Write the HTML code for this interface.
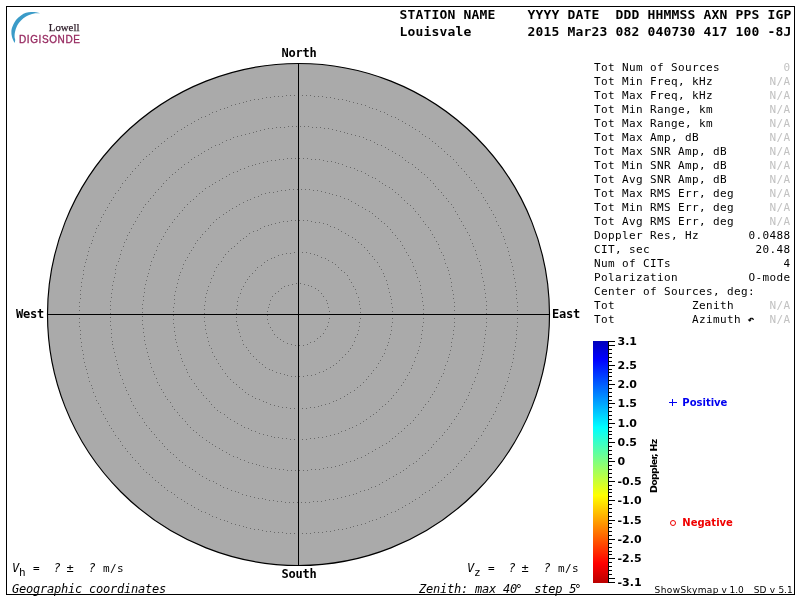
<!DOCTYPE html>
<html><head><meta charset="utf-8"><title>Skymap</title>
<style>
html,body{margin:0;padding:0;background:#fff;}
body{width:800px;height:600px;overflow:hidden;position:relative;}
svg{position:absolute;left:0;top:0;display:block;}
text{white-space:pre;}
.m{font-family:"DejaVu Sans Mono","Liberation Mono",monospace;font-size:11px;letter-spacing:0.3774px;fill:#000;}
.hb{font-family:"DejaVu Sans Mono","Liberation Mono",monospace;font-weight:bold;font-size:13px;letter-spacing:0.1733px;fill:#000;}
.b{font-family:"DejaVu Sans Mono","Liberation Mono",monospace;font-weight:bold;font-size:12px;letter-spacing:-0.2246px;fill:#000;}
.i{font-style:italic;}
.g{fill:#c2c2c2;}
.s{font-family:"DejaVu Sans","Liberation Sans",sans-serif;font-weight:bold;font-size:10px;fill:#000;}
.v{font-family:"DejaVu Sans","Liberation Sans",sans-serif;font-size:9px;fill:#000;}
</style></head><body>
<svg width="800" height="600" viewBox="0 0 800 600">
<defs><linearGradient id="jet" x1="0" y1="0" x2="0" y2="1">
<stop offset="0" stop-color="#0000ba"/><stop offset="0.0764" stop-color="#0000ff"/><stop offset="0.3574" stop-color="#00ffff"/><stop offset="0.6384" stop-color="#ffff00"/><stop offset="0.9194" stop-color="#ff0000"/><stop offset="1" stop-color="#ba0000"/>
</linearGradient></defs>
<rect x="0" y="0" width="800" height="600" fill="#fff"/>

<rect x="6.5" y="6.5" width="788" height="588" fill="none" stroke="#000" stroke-width="1"/>
<path d="M40 13.2C39.33 13.03 37.50 12.40 36 12.2C34.50 12.00 32.67 11.90 31 12C29.33 12.10 27.67 12.22 26 12.8C24.33 13.38 22.67 14.30 21 15.5C19.33 16.70 17.38 18.25 16 20C14.62 21.75 13.47 24.17 12.7 26C11.93 27.83 11.52 29.17 11.4 31C11.28 32.83 11.47 35.00 12 37C12.53 39.00 14.17 42.00 14.6 43C14.70 42.50 15.20 41.00 15.2 40C15.20 39.00 14.63 38.33 14.6 37C14.57 35.67 14.60 33.83 15 32C15.40 30.17 16.00 27.92 17 26C18.00 24.08 19.50 22.08 21 20.5C22.50 18.92 24.17 17.58 26 16.5C27.83 15.42 30.33 14.53 32 14C33.67 13.47 34.67 13.43 36 13.3C37.33 13.17 39.33 13.22 40 13.2Z" fill="#3a9bc8"/>
<text x="48.8" y="30.5" style="font-family:'Liberation Serif',serif;font-size:10.8px;fill:#33222e;stroke:#33222e;stroke-width:0.25px;">Lowell</text>
<text x="19" y="42.5" style="font-family:'Liberation Sans',sans-serif;font-size:10px;letter-spacing:0.6px;fill:#96285f;stroke:#96285f;stroke-width:0.3px;">DIGISONDE</text>
<circle cx="298.5" cy="314.5" r="251" fill="#aaaaaa" stroke="#000" stroke-width="1.15"/>
<path d="M329 314.5h1M329 318.5h1M328 322.5h1M327 326.5h1M325 329.5h1M323 333.5h1M320 336.5h1M317 338.5h1M314 341.5h1M310 342.5h1M307 344.5h1M303 345.5h1M299 345.5h1M295 345.5h1M291 344.5h1M287 343.5h1M283 341.5h1M280 339.5h1M277 337.5h1M274 334.5h1M272 330.5h1M270 327.5h1M268 323.5h1M267 319.5h1M267 315.5h1M267 311.5h1M268 307.5h1M269 304.5h1M270 300.5h1M272 296.5h1M275 293.5h1M278 291.5h1M281 288.5h1M284 286.5h1M288 285.5h1M292 284.5h1M296 283.5h1M300 283.5h1M304 284.5h1M308 285.5h1M311 286.5h1M315 288.5h1M318 290.5h1M321 293.5h1M323 296.5h1M326 300.5h1M327 303.5h1M328 307.5h1M329 311.5h1M360 314.5h1M360 318.5h1M359 322.5h1M359 326.5h1M358 330.5h1M357 334.5h1M355 337.5h1M354 341.5h1M352 345.5h1M350 348.5h1M348 351.5h1M345 354.5h1M342 357.5h1M339 360.5h1M336 363.5h1M333 365.5h1M330 367.5h1M326 369.5h1M323 371.5h1M319 372.5h1M315 374.5h1M311 375.5h1M307 375.5h1M303 376.5h1M299 376.5h1M295 376.5h1M291 376.5h1M287 375.5h1M284 374.5h1M280 373.5h1M276 372.5h1M272 370.5h1M269 369.5h1M265 367.5h1M262 364.5h1M259 362.5h1M256 359.5h1M253 356.5h1M250 353.5h1M248 350.5h1M246 347.5h1M243 344.5h1M242 340.5h1M240 336.5h1M239 332.5h1M238 329.5h1M237 325.5h1M236 321.5h1M236 317.5h1M236 313.5h1M236 309.5h1M237 305.5h1M237 301.5h1M238 297.5h1M240 293.5h1M241 289.5h1M243 286.5h1M245 282.5h1M247 279.5h1M249 276.5h1M252 273.5h1M255 270.5h1M257 267.5h1M261 265.5h1M264 262.5h1M267 260.5h1M271 258.5h1M274 257.5h1M278 255.5h1M282 254.5h1M286 253.5h1M290 253.5h1M294 252.5h1M298 252.5h1M302 252.5h1M306 252.5h1M310 253.5h1M314 254.5h1M317 255.5h1M321 257.5h1M325 258.5h1M328 260.5h1M332 262.5h1M335 264.5h1M338 267.5h1M341 270.5h1M344 272.5h1M347 275.5h1M349 279.5h1M351 282.5h1M353 286.5h1M355 289.5h1M356 293.5h1M358 297.5h1M359 301.5h1M359 304.5h1M360 308.5h1M360 312.5h1M392 314.5h1M392 318.5h1M392 322.5h1M391 326.5h1M391 330.5h1M390 334.5h1M389 338.5h1M388 342.5h1M387 345.5h1M385 349.5h1M384 353.5h1M382 356.5h1M380 360.5h1M378 363.5h1M376 367.5h1M373 370.5h1M371 373.5h1M368 376.5h1M366 379.5h1M363 382.5h1M360 385.5h1M357 387.5h1M354 390.5h1M350 392.5h1M347 394.5h1M344 396.5h1M340 398.5h1M336 400.5h1M333 401.5h1M329 403.5h1M325 404.5h1M321 405.5h1M318 406.5h1M314 407.5h1M310 407.5h1M306 408.5h1M302 408.5h1M298 408.5h1M294 408.5h1M290 408.5h1M286 407.5h1M282 407.5h1M278 406.5h1M274 405.5h1M270 404.5h1M266 402.5h1M263 401.5h1M259 399.5h1M255 398.5h1M252 396.5h1M248 394.5h1M245 392.5h1M242 389.5h1M239 387.5h1M236 384.5h1M233 382.5h1M230 379.5h1M227 376.5h1M225 373.5h1M222 369.5h1M220 366.5h1M218 363.5h1M216 359.5h1M214 356.5h1M212 352.5h1M211 348.5h1M209 345.5h1M208 341.5h1M207 337.5h1M206 333.5h1M205 329.5h1M205 325.5h1M204 321.5h1M204 317.5h1M204 313.5h1M204 309.5h1M204 305.5h1M205 301.5h1M205 297.5h1M206 293.5h1M207 290.5h1M208 286.5h1M210 282.5h1M211 278.5h1M213 275.5h1M214 271.5h1M216 267.5h1M218 264.5h1M221 261.5h1M223 257.5h1M225 254.5h1M228 251.5h1M231 248.5h1M234 246.5h1M237 243.5h1M240 240.5h1M243 238.5h1M246 236.5h1M249 233.5h1M253 231.5h1M257 230.5h1M260 228.5h1M264 226.5h1M268 225.5h1M271 224.5h1M275 223.5h1M279 222.5h1M283 221.5h1M287 221.5h1M291 220.5h1M295 220.5h1M299 220.5h1M303 220.5h1M307 220.5h1M311 221.5h1M315 222.5h1M319 222.5h1M323 223.5h1M327 224.5h1M330 226.5h1M334 227.5h1M338 229.5h1M341 231.5h1M345 233.5h1M348 235.5h1M352 237.5h1M355 239.5h1M358 242.5h1M361 244.5h1M364 247.5h1M367 250.5h1M369 253.5h1M372 256.5h1M374 259.5h1M377 262.5h1M379 266.5h1M381 269.5h1M383 273.5h1M384 276.5h1M386 280.5h1M387 284.5h1M388 288.5h1M389 292.5h1M390 296.5h1M391 299.5h1M391 303.5h1M392 307.5h1M392 311.5h1M423 314.5h1M423 318.5h1M423 322.5h1M422 326.5h1M422 330.5h1M421 334.5h1M421 338.5h1M420 342.5h1M419 346.5h1M418 350.5h1M417 353.5h1M415 357.5h1M414 361.5h1M412 365.5h1M411 368.5h1M409 372.5h1M407 375.5h1M405 379.5h1M403 382.5h1M401 385.5h1M398 389.5h1M396 392.5h1M393 395.5h1M391 398.5h1M388 401.5h1M385 404.5h1M382 406.5h1M379 409.5h1M376 412.5h1M373 414.5h1M370 416.5h1M366 419.5h1M363 421.5h1M360 423.5h1M356 425.5h1M352 427.5h1M349 428.5h1M345 430.5h1M341 431.5h1M338 433.5h1M334 434.5h1M330 435.5h1M326 436.5h1M322 437.5h1M318 437.5h1M314 438.5h1M310 438.5h1M306 439.5h1M302 439.5h1M298 439.5h1M294 439.5h1M290 439.5h1M286 438.5h1M282 438.5h1M278 437.5h1M274 437.5h1M271 436.5h1M267 435.5h1M263 434.5h1M259 433.5h1M255 431.5h1M251 430.5h1M248 428.5h1M244 427.5h1M241 425.5h1M237 423.5h1M234 421.5h1M230 419.5h1M227 417.5h1M224 414.5h1M220 412.5h1M217 410.5h1M214 407.5h1M211 404.5h1M209 401.5h1M206 398.5h1M203 395.5h1M201 392.5h1M198 389.5h1M196 386.5h1M194 383.5h1M191 379.5h1M189 376.5h1M187 372.5h1M186 369.5h1M184 365.5h1M182 361.5h1M181 358.5h1M180 354.5h1M178 350.5h1M177 346.5h1M176 342.5h1M175 339.5h1M175 335.5h1M174 331.5h1M174 327.5h1M173 323.5h1M173 319.5h1M173 315.5h1M173 311.5h1M173 307.5h1M174 303.5h1M174 299.5h1M174 295.5h1M175 291.5h1M176 287.5h1M177 283.5h1M178 279.5h1M179 275.5h1M180 272.5h1M182 268.5h1M183 264.5h1M185 260.5h1M187 257.5h1M189 253.5h1M191 250.5h1M193 247.5h1M195 243.5h1M197 240.5h1M200 237.5h1M202 234.5h1M205 231.5h1M208 228.5h1M210 225.5h1M213 222.5h1M216 219.5h1M219 217.5h1M223 214.5h1M226 212.5h1M229 210.5h1M232 208.5h1M236 206.5h1M239 204.5h1M243 202.5h1M247 200.5h1M250 199.5h1M254 197.5h1M258 196.5h1M261 194.5h1M265 193.5h1M269 192.5h1M273 192.5h1M277 191.5h1M281 190.5h1M285 190.5h1M289 189.5h1M293 189.5h1M297 189.5h1M301 189.5h1M305 189.5h1M309 189.5h1M313 190.5h1M317 190.5h1M321 191.5h1M325 192.5h1M329 193.5h1M332 194.5h1M336 195.5h1M340 196.5h1M344 198.5h1M348 199.5h1M351 201.5h1M355 203.5h1M358 205.5h1M362 207.5h1M365 209.5h1M369 211.5h1M372 213.5h1M375 216.5h1M378 218.5h1M381 221.5h1M384 223.5h1M387 226.5h1M390 229.5h1M392 232.5h1M395 235.5h1M397 238.5h1M400 241.5h1M402 245.5h1M404 248.5h1M406 252.5h1M408 255.5h1M410 259.5h1M412 262.5h1M413 266.5h1M415 270.5h1M416 273.5h1M417 277.5h1M419 281.5h1M420 285.5h1M420 289.5h1M421 293.5h1M422 297.5h1M422 301.5h1M423 305.5h1M423 309.5h1M423 313.5h1M454 314.5h1M454 318.5h1M454 322.5h1M454 326.5h1M453 330.5h1M453 334.5h1M452 338.5h1M451 342.5h1M451 346.5h1M450 350.5h1M449 354.5h1M448 357.5h1M447 361.5h1M445 365.5h1M444 369.5h1M443 373.5h1M441 376.5h1M439 380.5h1M438 383.5h1M436 387.5h1M434 391.5h1M432 394.5h1M430 397.5h1M428 401.5h1M425 404.5h1M423 407.5h1M421 410.5h1M418 414.5h1M415 417.5h1M413 420.5h1M410 423.5h1M407 425.5h1M404 428.5h1M401 431.5h1M398 433.5h1M395 436.5h1M392 438.5h1M389 441.5h1M386 443.5h1M382 445.5h1M379 447.5h1M375 449.5h1M372 451.5h1M368 453.5h1M365 455.5h1M361 457.5h1M357 458.5h1M354 460.5h1M350 461.5h1M346 462.5h1M342 464.5h1M339 465.5h1M335 466.5h1M331 467.5h1M327 467.5h1M323 468.5h1M319 469.5h1M315 469.5h1M311 469.5h1M307 470.5h1M303 470.5h1M299 470.5h1M295 470.5h1M291 470.5h1M287 470.5h1M283 469.5h1M279 469.5h1M275 468.5h1M271 468.5h1M267 467.5h1M263 466.5h1M259 465.5h1M256 464.5h1M252 463.5h1M248 462.5h1M244 460.5h1M240 459.5h1M237 457.5h1M233 456.5h1M229 454.5h1M226 452.5h1M222 450.5h1M219 448.5h1M215 446.5h1M212 444.5h1M209 442.5h1M206 440.5h1M202 437.5h1M199 435.5h1M196 432.5h1M193 430.5h1M190 427.5h1M187 424.5h1M185 421.5h1M182 418.5h1M179 415.5h1M177 412.5h1M174 409.5h1M172 406.5h1M170 402.5h1M167 399.5h1M165 396.5h1M163 392.5h1M161 389.5h1M159 385.5h1M157 382.5h1M156 378.5h1M154 374.5h1M153 371.5h1M151 367.5h1M150 363.5h1M149 359.5h1M148 356.5h1M147 352.5h1M146 348.5h1M145 344.5h1M144 340.5h1M144 336.5h1M143 332.5h1M143 328.5h1M142 324.5h1M142 320.5h1M142 316.5h1M142 312.5h1M142 308.5h1M142 304.5h1M143 300.5h1M143 296.5h1M144 292.5h1M144 288.5h1M145 284.5h1M146 280.5h1M147 276.5h1M148 273.5h1M149 269.5h1M150 265.5h1M151 261.5h1M153 257.5h1M154 254.5h1M156 250.5h1M157 246.5h1M159 243.5h1M161 239.5h1M163 236.5h1M165 232.5h1M167 229.5h1M169 226.5h1M172 222.5h1M174 219.5h1M177 216.5h1M179 213.5h1M182 210.5h1M184 207.5h1M187 204.5h1M190 201.5h1M193 199.5h1M196 196.5h1M199 193.5h1M202 191.5h1M205 188.5h1M209 186.5h1M212 184.5h1M215 182.5h1M219 180.5h1M222 178.5h1M226 176.5h1M229 174.5h1M233 172.5h1M237 171.5h1M240 169.5h1M244 168.5h1M248 166.5h1M252 165.5h1M255 164.5h1M259 163.5h1M263 162.5h1M267 161.5h1M271 160.5h1M275 160.5h1M279 159.5h1M283 159.5h1M287 158.5h1M291 158.5h1M295 158.5h1M299 158.5h1M303 158.5h1M307 158.5h1M311 159.5h1M315 159.5h1M319 159.5h1M323 160.5h1M327 161.5h1M331 161.5h1M335 162.5h1M338 163.5h1M342 164.5h1M346 166.5h1M350 167.5h1M354 168.5h1M357 170.5h1M361 171.5h1M365 173.5h1M368 175.5h1M372 177.5h1M375 178.5h1M379 181.5h1M382 183.5h1M385 185.5h1M389 187.5h1M392 189.5h1M395 192.5h1M398 194.5h1M401 197.5h1M404 200.5h1M407 203.5h1M410 205.5h1M413 208.5h1M415 211.5h1M418 214.5h1M420 217.5h1M423 221.5h1M425 224.5h1M428 227.5h1M430 230.5h1M432 234.5h1M434 237.5h1M436 241.5h1M438 244.5h1M439 248.5h1M441 252.5h1M443 255.5h1M444 259.5h1M445 263.5h1M447 267.5h1M448 270.5h1M449 274.5h1M450 278.5h1M451 282.5h1M451 286.5h1M452 290.5h1M453 294.5h1M453 298.5h1M454 302.5h1M454 306.5h1M454 310.5h1M454 314.5h1M486 314.5h1M486 318.5h1M486 322.5h1M486 326.5h1M485 330.5h1M485 334.5h1M484 338.5h1M484 342.5h1M483 346.5h1M483 350.5h1M482 354.5h1M481 358.5h1M480 361.5h1M479 365.5h1M478 369.5h1M477 373.5h1M475 377.5h1M474 381.5h1M472 384.5h1M471 388.5h1M469 392.5h1M468 395.5h1M466 399.5h1M464 402.5h1M462 406.5h1M460 409.5h1M458 413.5h1M456 416.5h1M454 419.5h1M451 423.5h1M449 426.5h1M447 429.5h1M444 432.5h1M442 435.5h1M439 438.5h1M436 441.5h1M433 444.5h1M431 447.5h1M428 450.5h1M425 453.5h1M422 455.5h1M419 458.5h1M416 461.5h1M413 463.5h1M409 465.5h1M406 468.5h1M403 470.5h1M400 472.5h1M396 474.5h1M393 476.5h1M389 478.5h1M386 480.5h1M382 482.5h1M379 484.5h1M375 486.5h1M371 487.5h1M368 489.5h1M364 490.5h1M360 491.5h1M356 493.5h1M353 494.5h1M349 495.5h1M345 496.5h1M341 497.5h1M337 498.5h1M333 499.5h1M329 499.5h1M325 500.5h1M321 501.5h1M317 501.5h1M313 501.5h1M309 502.5h1M305 502.5h1M301 502.5h1M297 502.5h1M293 502.5h1M289 502.5h1M285 502.5h1M281 501.5h1M277 501.5h1M273 500.5h1M269 500.5h1M265 499.5h1M262 498.5h1M258 498.5h1M254 497.5h1M250 496.5h1M246 495.5h1M242 494.5h1M238 492.5h1M235 491.5h1M231 490.5h1M227 488.5h1M223 487.5h1M220 485.5h1M216 483.5h1M213 481.5h1M209 480.5h1M206 478.5h1M202 476.5h1M199 474.5h1M195 471.5h1M192 469.5h1M189 467.5h1M185 465.5h1M182 462.5h1M179 460.5h1M176 457.5h1M173 454.5h1M170 452.5h1M167 449.5h1M164 446.5h1M162 443.5h1M159 440.5h1M156 437.5h1M154 434.5h1M151 431.5h1M149 428.5h1M146 425.5h1M144 422.5h1M142 418.5h1M139 415.5h1M137 412.5h1M135 408.5h1M133 405.5h1M131 401.5h1M130 398.5h1M128 394.5h1M126 390.5h1M125 387.5h1M123 383.5h1M122 379.5h1M120 375.5h1M119 372.5h1M118 368.5h1M117 364.5h1M116 360.5h1M115 356.5h1M114 352.5h1M113 348.5h1M112 344.5h1M112 341.5h1M111 337.5h1M111 333.5h1M111 329.5h1M110 325.5h1M110 321.5h1M110 317.5h1M110 313.5h1M110 309.5h1M110 305.5h1M110 301.5h1M111 297.5h1M111 293.5h1M112 289.5h1M112 285.5h1M113 281.5h1M114 277.5h1M115 273.5h1M115 269.5h1M116 265.5h1M118 261.5h1M119 258.5h1M120 254.5h1M121 250.5h1M123 246.5h1M124 242.5h1M126 239.5h1M127 235.5h1M129 232.5h1M131 228.5h1M133 224.5h1M135 221.5h1M137 217.5h1M139 214.5h1M141 211.5h1M143 207.5h1M145 204.5h1M148 201.5h1M150 198.5h1M153 195.5h1M155 192.5h1M158 189.5h1M161 186.5h1M163 183.5h1M166 180.5h1M169 177.5h1M172 174.5h1M175 172.5h1M178 169.5h1M181 167.5h1M184 164.5h1M188 162.5h1M191 159.5h1M194 157.5h1M198 155.5h1M201 153.5h1M204 151.5h1M208 149.5h1M211 147.5h1M215 145.5h1M219 144.5h1M222 142.5h1M226 140.5h1M230 139.5h1M233 137.5h1M237 136.5h1M241 135.5h1M245 134.5h1M249 133.5h1M253 132.5h1M256 131.5h1M260 130.5h1M264 129.5h1M268 128.5h1M272 128.5h1M276 127.5h1M280 127.5h1M284 127.5h1M288 126.5h1M292 126.5h1M296 126.5h1M300 126.5h1M304 126.5h1M308 126.5h1M312 127.5h1M316 127.5h1M320 127.5h1M324 128.5h1M328 128.5h1M332 129.5h1M336 130.5h1M340 131.5h1M344 132.5h1M347 133.5h1M351 134.5h1M355 135.5h1M359 136.5h1M363 137.5h1M366 139.5h1M370 140.5h1M374 142.5h1M377 144.5h1M381 145.5h1M385 147.5h1M388 149.5h1M392 151.5h1M395 153.5h1M399 155.5h1M402 157.5h1M405 160.5h1M408 162.5h1M412 164.5h1M415 167.5h1M418 169.5h1M421 172.5h1M424 174.5h1M427 177.5h1M430 180.5h1M433 183.5h1M435 186.5h1M438 189.5h1M441 192.5h1M443 195.5h1M446 198.5h1M448 201.5h1M451 204.5h1M453 207.5h1M455 211.5h1M457 214.5h1M459 218.5h1M461 221.5h1M463 225.5h1M465 228.5h1M467 232.5h1M469 235.5h1M470 239.5h1M472 243.5h1M473 246.5h1M475 250.5h1M476 254.5h1M477 258.5h1M479 261.5h1M480 265.5h1M481 269.5h1M481 273.5h1M482 277.5h1M483 281.5h1M484 285.5h1M484 289.5h1M485 293.5h1M485 297.5h1M486 301.5h1M486 305.5h1M486 309.5h1M486 313.5h1M517 314.5h1M517 318.5h1M517 322.5h1M517 326.5h1M516 330.5h1M516 334.5h1M516 338.5h1M515 342.5h1M515 346.5h1M514 350.5h1M513 354.5h1M513 358.5h1M512 362.5h1M511 366.5h1M510 369.5h1M509 373.5h1M508 377.5h1M507 381.5h1M505 385.5h1M504 388.5h1M503 392.5h1M501 396.5h1M500 400.5h1M498 403.5h1M496 407.5h1M495 411.5h1M493 414.5h1M491 418.5h1M489 421.5h1M487 425.5h1M485 428.5h1M483 431.5h1M481 435.5h1M478 438.5h1M476 441.5h1M474 445.5h1M471 448.5h1M469 451.5h1M466 454.5h1M464 457.5h1M461 460.5h1M458 463.5h1M456 466.5h1M453 469.5h1M450 472.5h1M447 474.5h1M444 477.5h1M441 480.5h1M438 482.5h1M435 485.5h1M432 487.5h1M429 490.5h1M425 492.5h1M422 494.5h1M419 497.5h1M415 499.5h1M412 501.5h1M409 503.5h1M405 505.5h1M402 507.5h1M398 509.5h1M395 511.5h1M391 512.5h1M387 514.5h1M384 516.5h1M380 517.5h1M376 519.5h1M372 520.5h1M369 521.5h1M365 523.5h1M361 524.5h1M357 525.5h1M353 526.5h1M350 527.5h1M346 528.5h1M342 529.5h1M338 529.5h1M334 530.5h1M330 531.5h1M326 531.5h1M322 532.5h1M318 532.5h1M314 532.5h1M310 533.5h1M306 533.5h1M302 533.5h1M298 533.5h1M294 533.5h1M290 533.5h1M286 533.5h1M282 532.5h1M278 532.5h1M274 532.5h1M270 531.5h1M266 531.5h1M262 530.5h1M258 529.5h1M254 529.5h1M250 528.5h1M246 527.5h1M243 526.5h1M239 525.5h1M235 524.5h1M231 523.5h1M227 521.5h1M224 520.5h1M220 519.5h1M216 517.5h1M212 516.5h1M209 514.5h1M205 512.5h1M201 511.5h1M198 509.5h1M194 507.5h1M191 505.5h1M187 503.5h1M184 501.5h1M181 499.5h1M177 497.5h1M174 494.5h1M171 492.5h1M167 490.5h1M164 487.5h1M161 485.5h1M158 482.5h1M155 480.5h1M152 477.5h1M149 474.5h1M146 472.5h1M143 469.5h1M140 466.5h1M138 463.5h1M135 460.5h1M132 457.5h1M130 454.5h1M127 451.5h1M125 448.5h1M122 445.5h1M120 441.5h1M118 438.5h1M115 435.5h1M113 431.5h1M111 428.5h1M109 425.5h1M107 421.5h1M105 418.5h1M103 414.5h1M101 411.5h1M100 407.5h1M98 403.5h1M96 400.5h1M95 396.5h1M93 392.5h1M92 388.5h1M91 385.5h1M89 381.5h1M88 377.5h1M87 373.5h1M86 369.5h1M85 366.5h1M84 362.5h1M83 358.5h1M83 354.5h1M82 350.5h1M81 346.5h1M81 342.5h1M80 338.5h1M80 334.5h1M80 330.5h1M79 326.5h1M79 322.5h1M79 318.5h1M79 314.5h1M79 310.5h1M79 306.5h1M79 302.5h1M80 298.5h1M80 294.5h1M80 290.5h1M81 286.5h1M81 282.5h1M82 278.5h1M83 274.5h1M83 270.5h1M84 266.5h1M85 262.5h1M86 259.5h1M87 255.5h1M88 251.5h1M89 247.5h1M91 243.5h1M92 240.5h1M93 236.5h1M95 232.5h1M96 228.5h1M98 225.5h1M100 221.5h1M101 217.5h1M103 214.5h1M105 210.5h1M107 207.5h1M109 203.5h1M111 200.5h1M113 197.5h1M115 193.5h1M118 190.5h1M120 187.5h1M122 183.5h1M125 180.5h1M127 177.5h1M130 174.5h1M132 171.5h1M135 168.5h1M138 165.5h1M140 162.5h1M143 159.5h1M146 156.5h1M149 154.5h1M152 151.5h1M155 148.5h1M158 146.5h1M161 143.5h1M164 141.5h1M167 138.5h1M171 136.5h1M174 134.5h1M177 131.5h1M181 129.5h1M184 127.5h1M187 125.5h1M191 123.5h1M194 121.5h1M198 119.5h1M201 117.5h1M205 116.5h1M209 114.5h1M212 112.5h1M216 111.5h1M220 109.5h1M224 108.5h1M227 107.5h1M231 105.5h1M235 104.5h1M239 103.5h1M243 102.5h1M246 101.5h1M250 100.5h1M254 99.5h1M258 99.5h1M262 98.5h1M266 97.5h1M270 97.5h1M274 96.5h1M278 96.5h1M282 96.5h1M286 95.5h1M290 95.5h1M294 95.5h1M298 95.5h1M302 95.5h1M306 95.5h1M310 95.5h1M314 96.5h1M318 96.5h1M322 96.5h1M326 97.5h1M330 97.5h1M334 98.5h1M338 99.5h1M342 99.5h1M346 100.5h1M349 101.5h1M353 102.5h1M357 103.5h1M361 104.5h1M365 105.5h1M369 107.5h1M372 108.5h1M376 109.5h1M380 111.5h1M384 112.5h1M387 114.5h1M391 116.5h1M395 117.5h1M398 119.5h1M402 121.5h1M405 123.5h1M409 125.5h1M412 127.5h1M415 129.5h1M419 131.5h1M422 134.5h1M425 136.5h1M429 138.5h1M432 141.5h1M435 143.5h1M438 146.5h1M441 148.5h1M444 151.5h1M447 154.5h1M450 156.5h1M453 159.5h1M456 162.5h1M458 165.5h1M461 168.5h1M464 171.5h1M466 174.5h1M469 177.5h1M471 180.5h1M474 183.5h1M476 187.5h1M478 190.5h1M481 193.5h1M483 197.5h1M485 200.5h1M487 203.5h1M489 207.5h1M491 210.5h1M493 214.5h1M495 217.5h1M496 221.5h1M498 225.5h1M500 228.5h1M501 232.5h1M503 236.5h1M504 239.5h1M505 243.5h1M507 247.5h1M508 251.5h1M509 255.5h1M510 259.5h1M511 262.5h1M512 266.5h1M513 270.5h1M513 274.5h1M514 278.5h1M515 282.5h1M515 286.5h1M516 290.5h1M516 294.5h1M516 298.5h1M517 302.5h1M517 306.5h1M517 310.5h1M517 314.5h1" stroke="#6a6a6a" stroke-width="1" fill="none" shape-rendering="crispEdges"/>
<rect x="298" y="63" width="1" height="503" fill="#000"/>
<rect x="47" y="314" width="503" height="1" fill="#000"/>
<text class="b" x="281.5" y="57">North</text>
<text class="b" x="281.5" y="578">South</text>
<text class="b" x="16" y="318">West</text>
<text class="b" x="552" y="318">East</text>
<text class="hb" x="399.6" y="19">STATION NAME    YYYY DATE  DDD HHMMSS AXN PPS IGP</text>
<text class="hb" x="399.6" y="36">Louisvale       2015 Mar23 082 040730 417 100 -8J</text>
<text class="m" x="594" y="71">Tot Num of Sources</text>
<text class="m g" x="783.5" y="71">0</text>
<text class="m" x="594" y="85">Tot Min Freq, kHz</text>
<text class="m g" x="769.5" y="85">N/A</text>
<text class="m" x="594" y="99">Tot Max Freq, kHz</text>
<text class="m g" x="769.5" y="99">N/A</text>
<text class="m" x="594" y="113">Tot Min Range, km</text>
<text class="m g" x="769.5" y="113">N/A</text>
<text class="m" x="594" y="127">Tot Max Range, km</text>
<text class="m g" x="769.5" y="127">N/A</text>
<text class="m" x="594" y="141">Tot Max Amp, dB</text>
<text class="m g" x="769.5" y="141">N/A</text>
<text class="m" x="594" y="155">Tot Max SNR Amp, dB</text>
<text class="m g" x="769.5" y="155">N/A</text>
<text class="m" x="594" y="169">Tot Min SNR Amp, dB</text>
<text class="m g" x="769.5" y="169">N/A</text>
<text class="m" x="594" y="183">Tot Avg SNR Amp, dB</text>
<text class="m g" x="769.5" y="183">N/A</text>
<text class="m" x="594" y="197">Tot Max RMS Err, deg</text>
<text class="m g" x="769.5" y="197">N/A</text>
<text class="m" x="594" y="211">Tot Min RMS Err, deg</text>
<text class="m g" x="769.5" y="211">N/A</text>
<text class="m" x="594" y="225">Tot Avg RMS Err, deg</text>
<text class="m g" x="769.5" y="225">N/A</text>
<text class="m" x="594" y="239">Doppler Res, Hz</text>
<text class="m" x="748.5" y="239">0.0488</text>
<text class="m" x="594" y="253">CIT, sec</text>
<text class="m" x="755.5" y="253">20.48</text>
<text class="m" x="594" y="267">Num of CITs</text>
<text class="m" x="783.5" y="267">4</text>
<text class="m" x="594" y="281">Polarization</text>
<text class="m" x="748.5" y="281">O-mode</text>
<text class="m" x="594" y="295">Center of Sources, deg:</text>
<text class="m" x="594" y="309">Tot           Zenith</text>
<text class="m g" x="769.5" y="309">N/A</text>
<text class="m" x="594" y="323">Tot           Azimuth</text>
<text class="m g" x="769.5" y="323">N/A</text>
<text class="m" x="747.5" y="322.5" style="font-size:11px;font-weight:bold">↶</text>
<rect x="593" y="341" width="15" height="242" fill="url(#jet)"/>
<rect x="608" y="341" width="1" height="242" fill="#000"/>
<rect x="609" y="582" width="6" height="1" fill="#000"/>
<rect x="609" y="578" width="6" height="1" fill="#000"/>
<rect x="609" y="574" width="3" height="1" fill="#000"/>
<rect x="609" y="570" width="3" height="1" fill="#000"/>
<rect x="609" y="566" width="3" height="1" fill="#000"/>
<rect x="609" y="562" width="3" height="1" fill="#000"/>
<rect x="609" y="558" width="6" height="1" fill="#000"/>
<rect x="609" y="554" width="3" height="1" fill="#000"/>
<rect x="609" y="551" width="3" height="1" fill="#000"/>
<rect x="609" y="547" width="3" height="1" fill="#000"/>
<rect x="609" y="543" width="3" height="1" fill="#000"/>
<rect x="609" y="539" width="6" height="1" fill="#000"/>
<rect x="609" y="535" width="3" height="1" fill="#000"/>
<rect x="609" y="531" width="3" height="1" fill="#000"/>
<rect x="609" y="527" width="3" height="1" fill="#000"/>
<rect x="609" y="523" width="3" height="1" fill="#000"/>
<rect x="609" y="520" width="6" height="1" fill="#000"/>
<rect x="609" y="516" width="3" height="1" fill="#000"/>
<rect x="609" y="512" width="3" height="1" fill="#000"/>
<rect x="609" y="508" width="3" height="1" fill="#000"/>
<rect x="609" y="504" width="3" height="1" fill="#000"/>
<rect x="609" y="500" width="6" height="1" fill="#000"/>
<rect x="609" y="496" width="3" height="1" fill="#000"/>
<rect x="609" y="492" width="3" height="1" fill="#000"/>
<rect x="609" y="489" width="3" height="1" fill="#000"/>
<rect x="609" y="485" width="3" height="1" fill="#000"/>
<rect x="609" y="481" width="6" height="1" fill="#000"/>
<rect x="609" y="477" width="3" height="1" fill="#000"/>
<rect x="609" y="473" width="3" height="1" fill="#000"/>
<rect x="609" y="469" width="3" height="1" fill="#000"/>
<rect x="609" y="465" width="3" height="1" fill="#000"/>
<rect x="609" y="461" width="6" height="1" fill="#000"/>
<rect x="609" y="458" width="3" height="1" fill="#000"/>
<rect x="609" y="454" width="3" height="1" fill="#000"/>
<rect x="609" y="450" width="3" height="1" fill="#000"/>
<rect x="609" y="446" width="3" height="1" fill="#000"/>
<rect x="609" y="442" width="6" height="1" fill="#000"/>
<rect x="609" y="438" width="3" height="1" fill="#000"/>
<rect x="609" y="434" width="3" height="1" fill="#000"/>
<rect x="609" y="431" width="3" height="1" fill="#000"/>
<rect x="609" y="427" width="3" height="1" fill="#000"/>
<rect x="609" y="423" width="6" height="1" fill="#000"/>
<rect x="609" y="419" width="3" height="1" fill="#000"/>
<rect x="609" y="415" width="3" height="1" fill="#000"/>
<rect x="609" y="411" width="3" height="1" fill="#000"/>
<rect x="609" y="407" width="3" height="1" fill="#000"/>
<rect x="609" y="403" width="6" height="1" fill="#000"/>
<rect x="609" y="400" width="3" height="1" fill="#000"/>
<rect x="609" y="396" width="3" height="1" fill="#000"/>
<rect x="609" y="392" width="3" height="1" fill="#000"/>
<rect x="609" y="388" width="3" height="1" fill="#000"/>
<rect x="609" y="384" width="6" height="1" fill="#000"/>
<rect x="609" y="380" width="3" height="1" fill="#000"/>
<rect x="609" y="376" width="3" height="1" fill="#000"/>
<rect x="609" y="372" width="3" height="1" fill="#000"/>
<rect x="609" y="369" width="3" height="1" fill="#000"/>
<rect x="609" y="365" width="6" height="1" fill="#000"/>
<rect x="609" y="361" width="3" height="1" fill="#000"/>
<rect x="609" y="357" width="3" height="1" fill="#000"/>
<rect x="609" y="353" width="3" height="1" fill="#000"/>
<rect x="609" y="349" width="3" height="1" fill="#000"/>
<rect x="609" y="345" width="6" height="1" fill="#000"/>
<rect x="609" y="341" width="6" height="1" fill="#000"/>
<text class="s" x="617.5" y="345" style="font-size:11px">3.1</text>
<text class="s" x="617.5" y="369" style="font-size:11px">2.5</text>
<text class="s" x="617.5" y="388" style="font-size:11px">2.0</text>
<text class="s" x="617.5" y="407" style="font-size:11px">1.5</text>
<text class="s" x="617.5" y="427" style="font-size:11px">1.0</text>
<text class="s" x="617.5" y="446" style="font-size:11px">0.5</text>
<text class="s" x="617.5" y="465" style="font-size:11px">0</text>
<text class="s" x="617.5" y="485" style="font-size:11px">-0.5</text>
<text class="s" x="617.5" y="504" style="font-size:11px">-1.0</text>
<text class="s" x="617.5" y="524" style="font-size:11px">-1.5</text>
<text class="s" x="617.5" y="543" style="font-size:11px">-2.0</text>
<text class="s" x="617.5" y="562" style="font-size:11px">-2.5</text>
<text class="s" x="617.5" y="586" style="font-size:11px">-3.1</text>
<text class="s" transform="translate(656.7,493) rotate(-90)" style="font-size:9.5px;letter-spacing:-0.7px">Doppler, Hz</text>
<rect x="669" y="402" width="8" height="1" fill="#0000f0"/><rect x="672" y="399" width="1" height="7" fill="#0000f0"/>
<text class="s" x="682.3" y="406" style="fill:#0000f0">Positive</text>
<circle cx="673" cy="523" r="2.5" fill="none" stroke="#f00000" stroke-width="1"/>
<text class="s" x="682.3" y="526" style="fill:#f00000">Negative</text>
<text class="m i" x="12" y="572" style="font-size:12px">V</text>
<text class="m" x="19" y="576">h</text>
<text class="m" x="33" y="572">=</text>
<text class="m i" x="53.5" y="572" style="font-size:12px">?</text>
<text class="m" x="66.5" y="572" style="font-size:12px">±</text>
<text class="m i" x="88.5" y="572" style="font-size:12px">?</text>
<text class="m" x="103" y="572">m/s</text>
<text class="m i" x="467" y="572" style="font-size:12px">V</text>
<text class="m" x="474" y="576">z</text>
<text class="m" x="488" y="572">=</text>
<text class="m i" x="508.5" y="572" style="font-size:12px">?</text>
<text class="m" x="521.5" y="572" style="font-size:12px">±</text>
<text class="m i" x="543.5" y="572" style="font-size:12px">?</text>
<text class="m" x="558" y="572">m/s</text>
<text class="m i" x="12" y="593" style="font-size:12px;letter-spacing:-0.2246px">Geographic coordinates</text>
<text class="m i" x="419" y="593" style="font-size:12px;letter-spacing:-0.2246px">Zenith: max 40<tspan x="515.3">°</tspan>  <tspan x="534.3">step 5</tspan><tspan x="574.3">°</tspan></text>
<text class="v" x="654.5" y="592.5"><tspan style="letter-spacing:0.42px">ShowSkymap</tspan> <tspan x="721.5">v</tspan> <tspan x="729.5">1.0</tspan>   <tspan x="753.7">SD</tspan> <tspan x="769.8">v</tspan> <tspan x="778.4">5.1</tspan></text>
</svg></body></html>
